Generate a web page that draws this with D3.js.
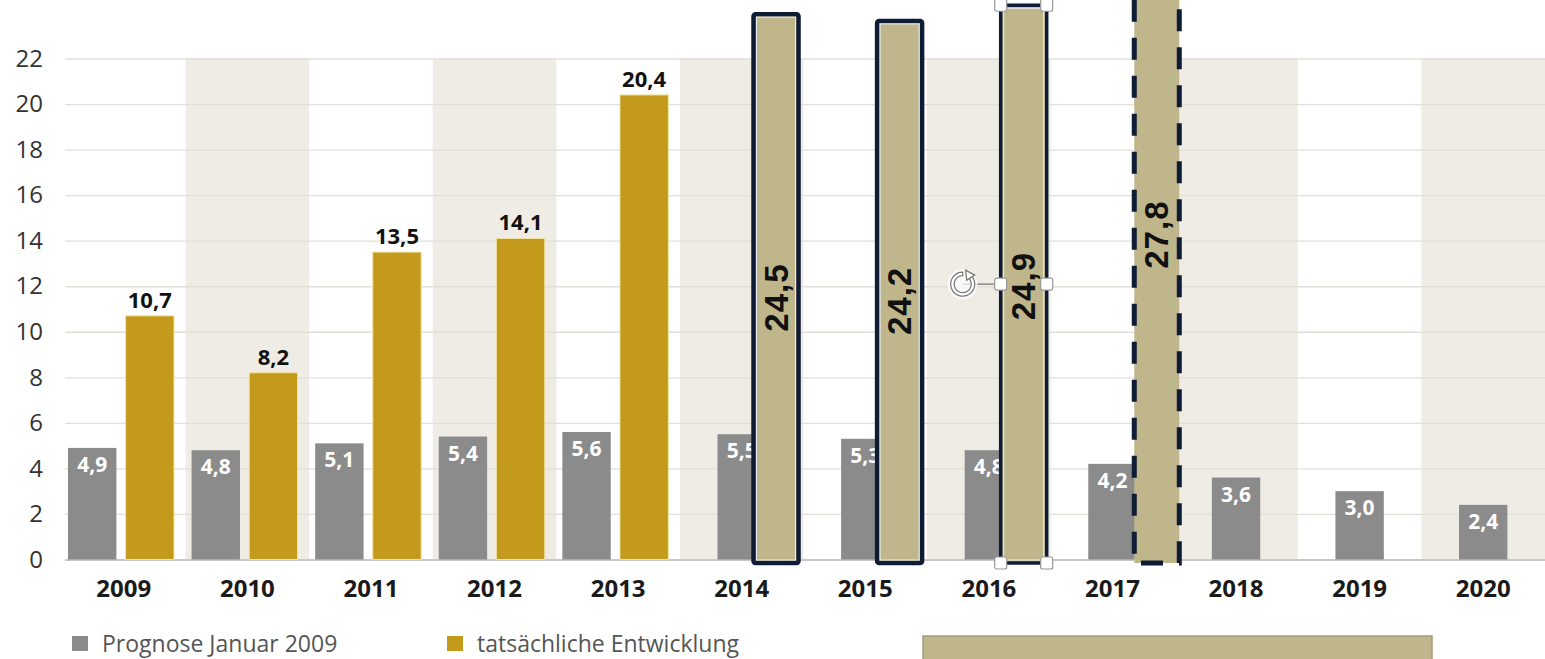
<!DOCTYPE html>
<html>
<head>
<meta charset="utf-8">
<script src="https://cdn.jsdelivr.net/npm/d3@7"></script>
<style>
  body { margin: 0; background: #fff; }
  svg { display: block; font-family: 'Open Sans', sans-serif; }
</style>
</head>
<body>
<svg id="svg" width="1545" height="659"></svg>
<script>
// chart data
const years = ['2009', '2010', '2011', '2012', '2013', '2014', '2015', '2016', '2017', '2018', '2019', '2020'];
const prognose = [4.9, 4.8, 5.1, 5.4, 5.6, 5.5, 5.3, 4.8, 4.2, 3.6, 3.0, 2.4];
const actual = [10.7, 8.2, 13.5, 14.1, 20.4, null, null, null, null, null, null, null];
// bars sketched on top of the chart
const sketchYears = ['2014', '2015', '2016', '2017'];
const sketchValues = [24.5, 24.2, 24.9, 27.8];
const sketchKinds = ['solid', 'solid', 'selected', 'dashed'];
const yTicks = [0, 2, 4, 6, 8, 10, 12, 14, 16, 18, 20, 22];
const legendLabels = ['Prognose Januar 2009', 'tatsächliche Entwicklung'];

const colours = { prognose: '#8b8b8b', actual: '#c39a1c', sketch: '#c0b68c', band: '#efece6', grid: '#e2dfd9', frame: '#0f1c36' };
const de = d3.formatLocale({ decimal: ',', thousands: '.', grouping: [3], currency: ['', ' €'] });
const fmt = de.format('.1f');

const svg = d3.select('#svg');
svg.append('rect').attr('width', 1545).attr('height', 659).attr('fill', '#fff');

const x0 = d3.scaleBand().domain(years).range([62, 1545]);
const x1 = d3.scaleBand().domain(['prognose', 'actual']).range([6, 112]).paddingInner(0.16);
const y = d3.scaleLinear().domain([0, 22]).range([559.5, 58.5]);
// the sketched bars were drawn a little off the chart's own scale
const ySketch = d3.scaleLinear().domain([0, 25]).range([563, 3]);

// alternating column shading
svg.append('g').selectAll('rect')
  .data(years.filter((d, i) => i % 2 === 1))
  .join('rect')
  .attr('x', d => x0(d))
  .attr('y', y(22))
  .attr('width', x0.bandwidth())
  .attr('height', y(0) - y(22))
  .attr('fill', colours.band);

// grid
const yAxis = d3.axisLeft(y).tickValues(yTicks).tickSize(-(1545 - 65)).tickPadding(22);
const yAxisG = svg.append('g').attr('transform', 'translate(65,0)').call(yAxis);
yAxisG.select('.domain').remove();
yAxisG.selectAll('.tick line').attr('stroke', colours.grid).attr('stroke-width', 1.3);
yAxisG.selectAll('.tick').filter(d => d === 0).select('line').attr('stroke', '#c8c8c8').attr('stroke-width', 2);
yAxisG.selectAll('.tick text')
  .attr('fill', '#333')
  .style('font-size', '24px')
  .style('font-family', "'Open Sans', sans-serif");

const xAxis = d3.axisBottom(x0).tickSize(0).tickPadding(20);
const xAxisG = svg.append('g').attr('transform', `translate(0,${y(0)})`).call(xAxis);
xAxisG.select('.domain').remove();
xAxisG.selectAll('.tick text')
  .attr('fill', '#1a1a1a')
  .style('font-size', '24px')
  .style('font-weight', 700)
  .style('font-family', "'Open Sans', sans-serif");

// bars
const rows = years.map((yr, i) => ({ year: yr, prognose: prognose[i], actual: actual[i] }));
// a forecast bar without an actual partner sits in the middle of its column
const progX = d => d.actual != null ? x1('prognose') : (x0.bandwidth() - x1.bandwidth()) / 2;

const groups = svg.append('g').selectAll('g')
  .data(rows)
  .join('g')
  .attr('transform', d => `translate(${x0(d.year)},0)`);

groups.append('rect')
  .attr('x', progX)
  .attr('y', d => y(d.prognose))
  .attr('width', x1.bandwidth())
  .attr('height', d => y(0) - y(d.prognose))
  .attr('fill', colours.prognose);

groups.append('text')
  .attr('x', d => progX(d) + x1.bandwidth() / 2)
  .attr('y', d => y(d.prognose) + 24)
  .attr('text-anchor', 'middle')
  .attr('fill', '#fff')
  .style('font-size', '21px')
  .style('font-weight', 700)
  .text(d => fmt(d.prognose));

const withActual = groups.filter(d => d.actual != null);

withActual.append('rect')
  .attr('x', x1('actual'))
  .attr('y', d => y(d.actual))
  .attr('width', x1.bandwidth())
  .attr('height', d => y(0) - y(d.actual))
  .attr('fill', colours.actual)
  .attr('stroke', '#f2e3a2')
  .attr('stroke-width', 1);

withActual.append('text')
  .attr('x', x1('actual') + x1.bandwidth() / 2)
  .attr('y', d => y(d.actual) - 8)
  .attr('text-anchor', 'middle')
  .attr('fill', '#111')
  .style('font-size', '22px')
  .style('font-weight', 700)
  .text(d => fmt(d.actual));

// legend
const legend = svg.append('g').attr('transform', 'translate(72,636)');
legendLabels.forEach((label, i) => {
  const g = legend.append('g').attr('transform', `translate(${i * 375},0)`);
  g.append('rect').attr('width', 16).attr('height', 15)
    .attr('fill', i === 0 ? colours.prognose : colours.actual);
  g.append('text').attr('x', 30).attr('y', 16)
    .attr('fill', '#555')
    .style('font-size', '23px')
    .text(label);
});

// sketched bars
const sketchStyle = {
  solid: { shift: 10, width: 45, dash: null, strokeWidth: 4.5, labelShift: 9 },
  selected: { shift: 10, width: 46, dash: null, strokeWidth: 3.5, labelShift: 2 },
  dashed: { shift: 20, width: 45, dash: '22 16', strokeWidth: 5, labelShift: -17 }
};
const sketch = sketchYears.map((yr, i) => ({ year: yr, value: sketchValues[i], kind: sketchKinds[i] }));

const sk = svg.append('g').selectAll('g')
  .data(sketch)
  .join('g')
  .attr('transform', d => `translate(${x0(d.year) + x1('actual') + sketchStyle[d.kind].shift},0)`);

sk.append('rect')
  .attr('x', 0)
  .attr('y', d => ySketch(d.value))
  .attr('width', d => sketchStyle[d.kind].width)
  .attr('height', d => ySketch(0) - ySketch(d.value))
  .attr('fill', colours.sketch)
  .attr('stroke', colours.frame)
  .attr('stroke-width', d => sketchStyle[d.kind].strokeWidth)
  .attr('stroke-dasharray', d => sketchStyle[d.kind].dash)
  .attr('rx', d => d.kind === 'solid' ? 2 : 0);

// thin light inner edge of the frames
sk.filter(d => d.kind !== 'dashed').append('rect')
  .attr('x', 3)
  .attr('y', d => ySketch(d.value) + 3)
  .attr('width', d => sketchStyle[d.kind].width - 6)
  .attr('height', d => ySketch(0) - ySketch(d.value) - 6)
  .attr('fill', 'none')
  .attr('stroke', '#e8eef0')
  .attr('stroke-width', 1);

sk.append('text')
  .attr('transform', d => {
    const cy = (ySketch(d.value) + ySketch(0)) / 2 + sketchStyle[d.kind].labelShift;
    return `translate(${sketchStyle[d.kind].width / 2},${cy}) rotate(-90)`;
  })
  .attr('text-anchor', 'middle')
  .attr('dominant-baseline', 'central')
  .attr('fill', '#111')
  .style('font-family', "'Liberation Sans', Arial, sans-serif")
  .style('font-size', '33px')
  .style('letter-spacing', '1px')
  .style('font-weight', 700)
  .text(d => fmt(d.value));

// selection frame with handles on the selected bar
const sel = sk.filter(d => d.kind === 'selected');
sel.each(function(d) {
  const g = d3.select(this);
  const w = sketchStyle[d.kind].width;
  const top = ySketch(d.value), bottom = ySketch(0), mid = (top + bottom) / 2;
  g.append('line').attr('x1', -38).attr('x2', 0).attr('y1', mid).attr('y2', mid)
    .attr('stroke', '#777').attr('stroke-width', 1.2);
  // rotate icon
  const icon = g.append('g').attr('transform', `translate(-38,${mid})`);
  icon.append('circle').attr('r', 15).attr('fill', '#fff').attr('opacity', 0.7);
  icon.append('path')
    .attr('d', d3.arc()({ innerRadius: 8.5, outerRadius: 12, startAngle: 0.6, endAngle: 2 * Math.PI }))
    .attr('fill', '#fff').attr('stroke', '#777').attr('stroke-width', 1.2);
  icon.append('path').attr('d', 'M3,-14 L12,-9 L4,-4 Z')
    .attr('fill', '#fff').attr('stroke', '#777').attr('stroke-width', 1.2);
  [[0, top], [w, top], [0, mid], [w, mid], [0, bottom], [w, bottom]].forEach(p => {
    g.append('rect')
      .attr('x', p[0] - 6).attr('y', p[1] - 6)
      .attr('width', 12).attr('height', 12).attr('rx', 2)
      .attr('fill', '#fff').attr('stroke', '#999').attr('stroke-width', 1.2);
  });
});

// box at the bottom right, cut off by the picture edge
svg.append('rect')
  .attr('x', 923).attr('y', 636)
  .attr('width', 509).attr('height', 40)
  .attr('fill', colours.sketch)
  .attr('stroke', '#a39c80')
  .attr('stroke-width', 1.5);
</script>
</body>
</html>
